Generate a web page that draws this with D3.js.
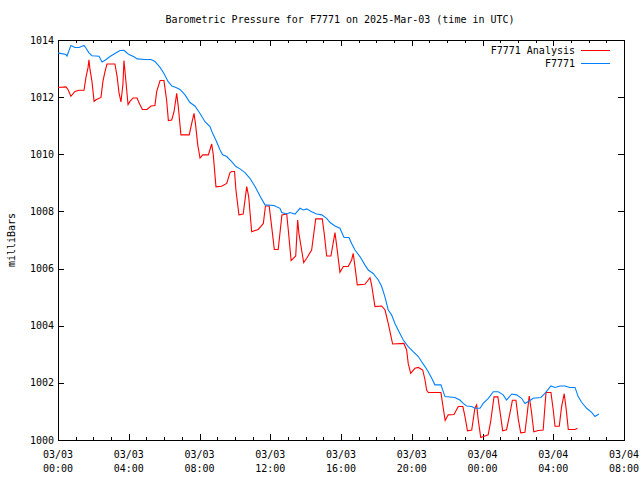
<!DOCTYPE html>
<html><head><meta charset="utf-8">
<script src="https://cdn.jsdelivr.net/npm/d3@7"></script>
<style>
html,body{margin:0;padding:0;background:#fff;}
text{font-family:"DejaVu Sans Mono","Liberation Mono",monospace;font-size:10px;fill:#000;}
</style></head>
<body><svg id="c" width="640" height="480"></svg>
<script>
// hours since 2025-03-03 00:00 UTC, pressure in millibars
const analysisHours = [0,0.45,0.57,0.73,0.96,1.19,1.47,1.58,1.70,1.75,1.81,1.92,2.04,2.15,2.43,2.54,2.66,2.77,3.22,3.34,3.45,3.56,3.67,3.73,3.84,3.96,4.07,4.24,4.47,4.58,4.77,5.03,5.26,5.48,5.58,5.77,5.99,6.14,6.24,6.43,6.56,6.71,6.80,6.95,7.42,7.56,7.69,7.78,7.90,8.03,8.18,8.50,8.69,8.78,8.93,9.25,9.54,9.72,9.82,9.98,10.06,10.23,10.47,10.67,10.78,10.95,11.32,11.46,11.61,11.73,11.94,12.08,12.23,12.45,12.66,12.93,13.02,13.18,13.44,13.55,13.62,13.89,14.06,14.34,14.57,14.94,15.05,15.19,15.43,15.66,15.75,15.94,16.13,16.41,16.60,16.69,16.79,16.92,17.35,17.54,17.64,17.73,17.92,18.30,18.49,18.67,18.77,18.92,19.56,19.71,19.80,19.94,20.18,20.37,20.62,20.75,20.84,20.94,21.65,21.78,21.89,22.06,22.39,22.63,22.89,23.01,23.15,23.39,23.57,23.67,23.76,23.90,24.14,24.32,24.46,24.65,24.87,25.03,25.14,25.36,25.55,25.69,25.89,26.02,26.16,26.40,26.53,26.64,26.77,26.90,27.15,27.43,27.59,27.87,28.00,28.10,28.34,28.47,28.62,28.73,28.85,29.23,29.37];
const analysisValues = [1012.34,1012.36,1012.26,1012.03,1012.20,1012.24,1012.24,1012.69,1013.04,1013.31,1012.96,1012.55,1011.85,1011.91,1011.99,1012.55,1012.90,1013.16,1013.16,1012.73,1012.15,1011.83,1012.44,1013.28,1012.55,1011.74,1011.85,1011.97,1011.97,1011.80,1011.57,1011.57,1011.69,1011.71,1012.19,1012.58,1012.58,1011.90,1011.18,1011.20,1011.49,1012.13,1011.67,1010.68,1010.68,1011.08,1011.43,1011.03,1010.33,1009.87,1009.98,1009.98,1010.36,1009.98,1008.86,1008.88,1008.98,1009.35,1009.40,1009.40,1008.75,1007.88,1007.91,1008.87,1008.52,1007.29,1007.37,1007.47,1007.58,1008.19,1008.19,1007.47,1006.67,1006.67,1007.88,1007.91,1007.35,1006.28,1006.44,1007.70,1007.23,1006.21,1006.36,1006.65,1007.74,1007.74,1007.23,1006.44,1006.44,1007.26,1006.83,1005.87,1006.07,1006.07,1006.30,1006.53,1006.07,1005.43,1005.45,1005.60,1005.68,1005.43,1004.67,1004.69,1004.55,1004.08,1003.79,1003.36,1003.38,1003.15,1002.68,1002.33,1002.51,1002.54,1002.45,1002.10,1001.75,1001.66,1001.66,1001.12,1000.68,1000.88,1000.89,1001.17,1001.17,1000.82,1000.32,1000.35,1001.11,1001.23,1000.70,1000.09,1000.14,1000.18,1000.64,1001.51,1001.51,1000.82,1000.32,1000.36,1000.93,1001.39,1001.39,1000.74,1000.25,1000.27,1000.93,1001.54,1000.98,1000.29,1000.33,1000.35,1001.66,1001.66,1001.05,1000.48,1000.48,1001.16,1001.62,1001.09,1000.37,1000.37,1000.41];
const stationHours = [0,0.45,0.51,0.73,0.96,1.19,1.47,1.58,1.75,1.92,2.32,2.49,2.66,2.94,3.22,3.50,3.73,3.84,4.01,4.30,4.47,4.92,5.26,5.48,5.77,5.99,6.22,6.44,6.67,6.90,7.18,7.46,7.74,8.03,8.31,8.59,8.78,8.97,9.16,9.31,9.54,9.82,10.06,10.29,10.57,10.85,11.14,11.42,11.70,12.21,12.55,12.65,12.93,13.12,13.40,13.68,13.87,14.06,14.34,14.62,14.91,15.19,15.38,15.66,15.94,16.17,16.45,16.60,16.79,17.07,17.35,17.54,17.82,18.11,18.30,18.48,18.67,18.86,19.05,19.33,19.52,19.80,20.08,20.37,20.56,20.75,20.93,21.13,21.31,21.65,21.88,22.44,22.72,22.91,23.10,23.39,23.57,23.86,24.04,24.33,24.61,24.89,25.17,25.36,25.65,25.93,26.21,26.40,26.68,26.87,27.30,27.53,27.87,28.10,28.38,28.66,28.94,29.23,29.41,29.60,29.89,30.17,30.36,30.58];
const stationValues = [1013.55,1013.49,1013.44,1013.81,1013.74,1013.74,1013.81,1013.72,1013.55,1013.45,1013.43,1013.23,1013.29,1013.42,1013.53,1013.63,1013.64,1013.58,1013.49,1013.41,1013.34,1013.32,1013.32,1013.25,1013.04,1012.83,1012.55,1012.39,1012.34,1012.27,1012.08,1011.81,1011.69,1011.43,1011.14,1010.97,1010.68,1010.44,1010.15,1009.98,1009.92,1009.74,1009.57,1009.49,1009.36,1009.16,1008.87,1008.54,1008.23,1008.21,1008.11,1007.96,1007.91,1007.96,1007.91,1008.11,1008.05,1008.09,1007.99,1007.91,1007.88,1007.76,1007.61,1007.49,1007.41,1007.09,1007.09,1006.88,1006.65,1006.42,1006.13,1005.95,1005.83,1005.60,1005.37,1005.02,1004.55,1004.38,1004.08,1003.73,1003.50,1003.27,1003.09,1002.92,1002.74,1002.57,1002.39,1002.16,1001.93,1001.93,1001.52,1001.49,1001.40,1001.28,1001.19,1001.17,1001.11,1001.11,1001.28,1001.46,1001.69,1001.69,1001.58,1001.40,1001.61,1001.58,1001.46,1001.28,1001.38,1001.46,1001.49,1001.63,1001.89,1001.84,1001.89,1001.89,1001.84,1001.84,1001.52,1001.32,1001.11,1000.97,1000.82,1000.91];
const yTicks = [1000,1002,1004,1006,1008,1010,1012,1014];
const seriesNames = ["F7771 Analysis","F7771"];
const seriesColors = ["#ff0000","#0080ff"];
const titleText = "Barometric Pressure for F7771 on 2025-Mar-03 (time in UTC)";
const yLabel = "milliBars";

const base = Date.UTC(2025,2,3,0,0);
const toDate = h => new Date(base + h*3600000);
const svg = d3.select("#c");
const L=58, R=624, T=40, B=440;
const x = d3.scaleUtc().domain([toDate(0), toDate(32)]).range([L,R]);
const y = d3.scaleLinear().domain([1000,1014]).range([B,T]);

svg.append("text").attr("x",340).attr("y",23).attr("text-anchor","middle").text(titleText);
svg.append("text").attr("transform","translate(15,240) rotate(-90)").attr("text-anchor","middle").text(yLabel);

const g = svg.append("g").attr("shape-rendering","crispEdges").attr("stroke","#000").attr("stroke-width",1);
// ticks
const majors = d3.range(0,33,4).map(toDate);
const minors = d3.range(0,33,1).filter(h=>h%4!==0).map(toDate);
majors.forEach(d=>{const px=Math.round(x(d))+0.5;
  g.append("line").attr("x1",px).attr("x2",px).attr("y1",B).attr("y2",B-6);
  g.append("line").attr("x1",px).attr("x2",px).attr("y1",T).attr("y2",T+6);});
minors.forEach(d=>{const px=Math.round(x(d))+0.5;
  g.append("line").attr("x1",px).attr("x2",px).attr("y1",B).attr("y2",B-3);
  g.append("line").attr("x1",px).attr("x2",px).attr("y1",T).attr("y2",T+3);});
yTicks.forEach(v=>{const py=Math.round(y(v))+0.5;
  g.append("line").attr("x1",L).attr("x2",L+6).attr("y1",py).attr("y2",py);
  g.append("line").attr("x1",R).attr("x2",R-6).attr("y1",py).attr("y2",py);});

// tick labels
const fD=d3.utcFormat("%m/%d"), fT=d3.utcFormat("%H:%M");
majors.forEach(d=>{
  svg.append("text").attr("x",x(d)).attr("y",458).attr("text-anchor","middle").text(fD(d));
  svg.append("text").attr("x",x(d)).attr("y",472).attr("text-anchor","middle").text(fT(d));});
yTicks.forEach(v=>{
  svg.append("text").attr("x",54).attr("y",y(v)+3.5).attr("text-anchor","end").text(v);});

// lines
const line = d3.line().x(d=>x(toDate(d[0]))).y(d=>y(d[1]));
const sA = analysisHours.map((h,i)=>[h,analysisValues[i]]);
const sS = stationHours.map((h,i)=>[h,stationValues[i]]);
svg.append("path").datum(sA).attr("d",line).attr("fill","none").attr("stroke",seriesColors[0]).attr("stroke-width",1.1);
svg.append("path").datum(sS).attr("d",line).attr("fill","none").attr("stroke",seriesColors[1]).attr("stroke-width",1.1);

// frame
g.append("rect").attr("x",L+0.5).attr("y",T+0.5).attr("width",R-L).attr("height",B-T).attr("fill","none");

// legend
seriesNames.forEach((n,i)=>{
  const ly = 50 + i*13;
  svg.append("text").attr("x",575).attr("y",ly+3.5).attr("text-anchor","end").text(n);
  svg.append("line").attr("x1",581).attr("x2",610).attr("y1",ly+0.5).attr("y2",ly+0.5)
    .attr("stroke",seriesColors[i]).attr("stroke-width",1).attr("shape-rendering","crispEdges");
});
</script></body></html>
